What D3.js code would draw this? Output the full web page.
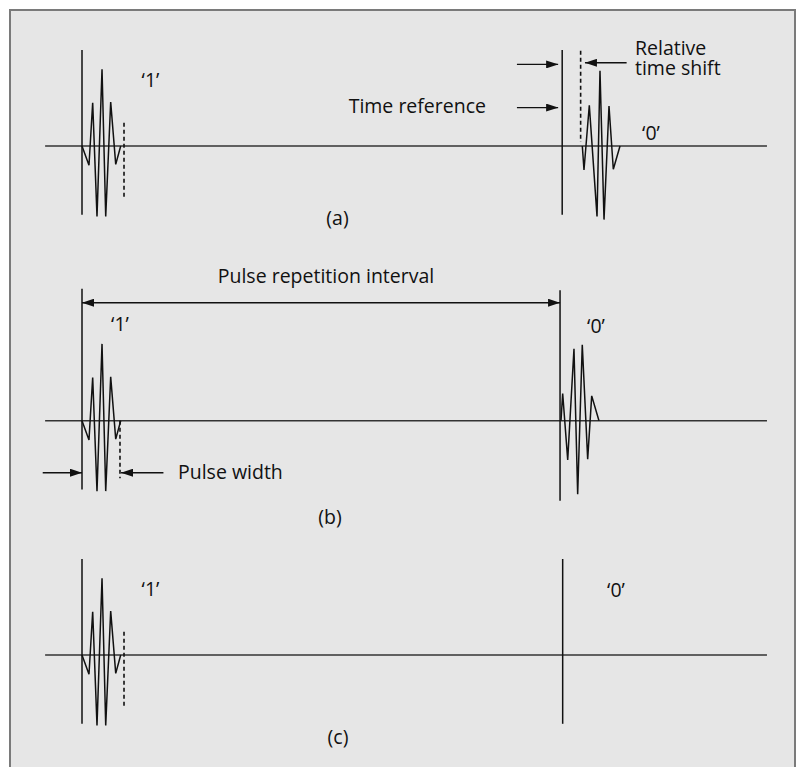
<!DOCTYPE html>
<html>
<head>
<meta charset="utf-8">
<script src="https://cdn.jsdelivr.net/npm/d3@7/dist/d3.min.js"></script>
<style>
    body { margin: 0; background: #fff; }
    text { font-family: "Open Sans", sans-serif; font-size: 19.5px; fill: #111; }
</style>
</head>
<body>
<div id="chart"></div>
<script>
// Pulse shapes: time in ns (PRI = 100 ns), amplitude normalised to +-1
const PRI = 100;
const pulseOneTimes = [0, 1.46, 2.23, 3.13, 4.18, 4.95, 5.99, 7.04, 8.08];
const pulseOneAmps = [0, -0.24, 0.54, -0.88, 0.96, -0.88, 0.55, -0.23, 0];
const ppmZeroTimes = [104.45, 104.80, 105.91, 107.52, 108.14, 108.98, 110.02, 110.92, 112.32];
const ppmZeroAmps = [0, -0.30, 0.51, -0.88, 0.94, -0.92, 0.50, -0.29, 0];
const bpskZeroTimes = [100.0, 100.35, 101.40, 102.71, 103.48, 104.44, 105.57, 106.41, 107.93];
const bpskZeroAmps = [0, 0.34, -0.49, 0.90, -0.92, 0.95, -0.48, 0.31, 0];

const panelLabels = ["(a)", "(b)", "(c)"];
const bitLabels = ["\u20181\u2019", "\u20180\u2019"];
const pulseWidthEnd = [8.77, 7.93, 8.77];
const zeroRefTimes = [100.25, 99.8, 100.35];

const width = 797, height = 767;
const panelBase = [146, 420.7, 655];

const zip = (ts, as) => ts.map((t, i) => ({ t: t, a: as[i] }));

const svg = d3.select("#chart")
    .append("svg")
    .attr("width", width)
    .attr("height", height);

// Arrow head
svg.append("defs")
    .append("marker")
    .attr("id", "arrow")
    .attr("viewBox", "0 0 12 8")
    .attr("refX", 12)
    .attr("refY", 4)
    .attr("markerWidth", 12)
    .attr("markerHeight", 8)
    .attr("markerUnits", "userSpaceOnUse")
    .attr("orient", "auto-start-reverse")
    .append("path")
    .attr("d", "M0,0 L12,4 L0,8 Z")
    .attr("fill", "#111");

// Frame
svg.append("rect")
    .attr("x", 10)
    .attr("y", 10)
    .attr("width", 785)
    .attr("height", height + 10)
    .attr("fill", "#e6e6e6")
    .attr("stroke", "#7a7a7a")
    .attr("stroke-width", 2);

const x = d3.scaleLinear().domain([0, PRI]).range([82, 561]);
const line = (y) => d3.line().x(d => x(d.t)).y(d => y(d.a));

function vline(g, y, t, a0, a1, dashed) {
    g.append("line")
        .attr("x1", x(t)).attr("x2", x(t))
        .attr("y1", y(a0)).attr("y2", y(a1))
        .attr("stroke", "#111")
        .attr("stroke-width", dashed ? 1.6 : 1.5)
        .attr("stroke-dasharray", dashed ? "4,3" : null);
}

function arrow(g, y, t0, t1, a, both) {
    g.append("line")
        .attr("x1", x(t0)).attr("x2", x(t1))
        .attr("y1", y(a)).attr("y2", y(a))
        .attr("stroke", "#111")
        .attr("stroke-width", 1.4)
        .attr("marker-end", "url(#arrow)")
        .attr("marker-start", both ? "url(#arrow)" : null);
}

function pulse(g, y, data) {
    g.append("path")
        .datum(data)
        .attr("d", line(y))
        .attr("fill", "none")
        .attr("stroke", "#111")
        .attr("stroke-width", 1.5)
        .attr("stroke-linejoin", "miter");
}

panelBase.forEach((base, i) => {
    const y = d3.scaleLinear().domain([-1, 1]).range([base + 80, base - 80]);
    const g = svg.append("g").attr("class", "panel");

    // time axis
    g.append("line")
        .attr("x1", x(-7.7)).attr("x2", x(143))
        .attr("y1", y(0)).attr("y2", y(0))
        .attr("stroke", "#333")
        .attr("stroke-width", 1.4);

    // '1' pulse, same in all three schemes
    vline(g, y, 0, i === 1 ? 1.65 : 1.2, -0.86, false);
    pulse(g, y, zip(pulseOneTimes, pulseOneAmps));
    if (i === 1) vline(g, y, pulseWidthEnd[i], 0, -0.72, true);
    else vline(g, y, pulseWidthEnd[i], 0.29, -0.67, true);

    // '0' reference
    vline(g, y, zeroRefTimes[i], i === 1 ? 1.63 : 1.2, i === 1 ? -1.0 : -0.86, false);

    g.append("text")
        .attr("text-anchor", "middle")
        .attr("x", i === 1 ? 120 : 150.5)
        .attr("y", i === 1 ? base - 90 : base - 59)
        .text(bitLabels[0]);

    const zeroX = [651, 596, 616][i];
    const zeroY = [base - 6, base - 88, base - 58][i];
    g.append("text")
        .attr("text-anchor", "middle")
        .attr("x", zeroX)
        .attr("y", zeroY)
        .text(bitLabels[1]);

    g.append("text")
        .attr("text-anchor", "middle")
        .attr("x", [337.5, 330, 338][i])
        .attr("y", base + [79, 103, 89][i])
        .text(panelLabels[i]);

    if (i === 0) {
        // pulse position modulation
        vline(g, y, 104.1, 1.19, 0.05, true);
        pulse(g, y, zip(ppmZeroTimes, ppmZeroAmps));
        arrow(g, y, 90.8, 99.4, 1.02, false);
        arrow(g, y, 90.8, 99.4, 0.48, false);
        arrow(g, y, 113.7, 105.0, 1.04, false);
        g.append("text").attr("x", 635).attr("y", base - 91).text("Relative");
        g.append("text").attr("x", 635).attr("y", base - 71).text("time shift");
        g.append("text").attr("text-anchor", "end").attr("x", 486).attr("y", base - 33).text("Time reference");
    } else if (i === 1) {
        // bi-phase modulation
        pulse(g, y, zip(bpskZeroTimes, bpskZeroAmps));
        arrow(g, y, 0, zeroRefTimes[i], 1.475, true);
        arrow(g, y, -8.2, 0, -0.65, false);
        arrow(g, y, 17.0, 8.15, -0.65, false);
        g.append("text").attr("text-anchor", "middle").attr("x", 326).attr("y", base - 138).text("Pulse repetition interval");
        g.append("text").attr("x", 178).attr("y", base + 58).text("Pulse width");
    }
});
</script>
</body>
</html>
